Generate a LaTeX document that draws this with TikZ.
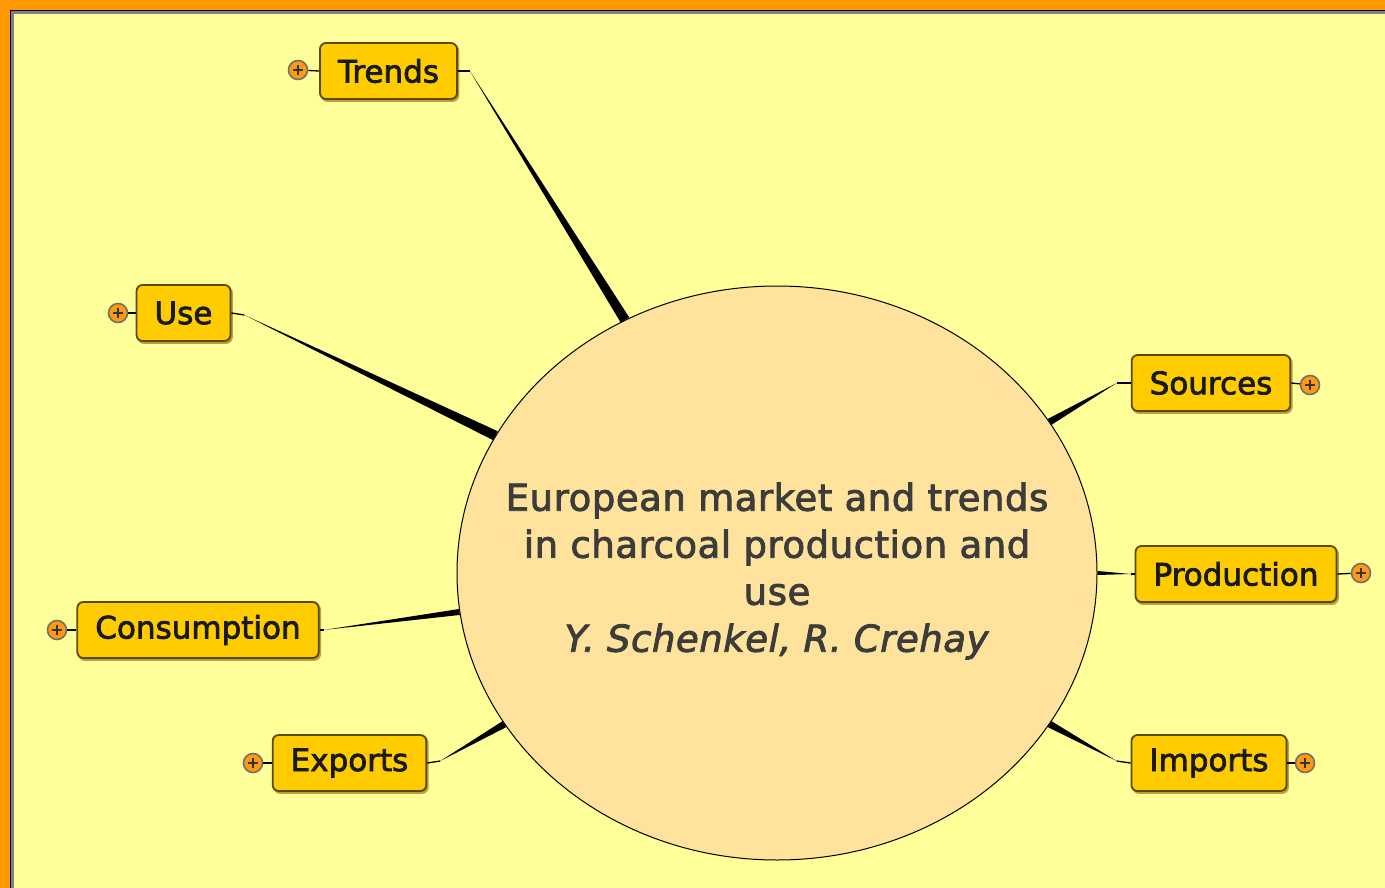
\documentclass[tikz,border=0pt]{standalone}
\usepackage{fontspec}
\setmainfont{DejaVu Sans}[RawFeature={embolden=2.4}]
\usetikzlibrary{shapes.geometric,calc}
\definecolor{frameor}{HTML}{FF9900}
\definecolor{bgyel}{HTML}{FFFF99}
\definecolor{boxfill}{HTML}{FFCC00}
\definecolor{boxline}{HTML}{5A4A00}
\definecolor{boxshadow}{HTML}{B8A040}
\definecolor{ellfill}{HTML}{FFE39C}
\definecolor{maintext}{HTML}{3C3C3C}
\definecolor{iconor}{HTML}{FF9A10}
\definecolor{icongray}{HTML}{707070}
\tikzset{
  topic/.style={draw=boxline, line width=1.8pt, fill=boxfill, rounded corners=6pt,
    minimum height=56pt, inner xsep=18pt, inner ysep=0pt, text=black!90,
    font=\fontsize{31}{37}\selectfont,
    preaction={fill=boxshadow, draw=boxshadow, transform canvas={xshift=1.5pt,yshift=-2pt}}},
  plusicon/.style={circle, draw=icongray, line width=1.6pt, fill=iconor, minimum size=19pt, inner sep=0pt,
    path picture={\draw[black!80, line width=2.2pt] ([xshift=-5pt]path picture bounding box.center) -- ([xshift=5pt]path picture bounding box.center);
      \draw[black!80, line width=2.2pt] ([yshift=-5pt]path picture bounding box.center) -- ([yshift=5pt]path picture bounding box.center);}},
  stub/.style={black, line width=1.3pt},
}
\newcommand{\taperlink}[3]{%
  \fill[black] (#1) -- ($(#2)!#3!90:(#1)$) -- ($(#2)!#3!-90:(#1)$) -- cycle;}
\begin{document}
\begin{tikzpicture}[x=1pt,y=-1pt]
\useasboundingbox (0,0) rectangle (1385,888);
% frame
\fill[frameor] (0,0) rectangle (1385,888);
\fill[black] (10,10) rectangle (1385,888);
\fill[gray] (11,11) rectangle (1385,888);
\fill[bgyel] (14,14) rectangle (1385,888);
% central ellipse
\node[ellipse, draw=black, line width=1pt, fill=ellfill, minimum width=640pt, minimum height=574pt, inner sep=0pt] (c) at (777,573) {};
\node[text=maintext, align=center, font=\fontsize{37}{47}\selectfont\addfontfeatures{LetterSpace=1.5}] (ct) at (777,571)
  {European market and trends\\in charcoal production and\\use\\\textit{Y. Schenkel, R. Crehay}};
% topics
\node[topic] (tr) at (388.5,71) {Trends};
\node[topic] (us) at (183.5,313) {Use};
\node[topic] (co) at (198,630) {Consumption};
\node[topic] (ex) at (349.5,763) {Exports};
\node[topic] (so) at (1211,383) {Sources};
\node[topic] (pr) at (1236,574) {Production};
\node[topic] (im) at (1209,763) {Imports};
% icons
\node[plusicon] (tri) at (298,70) {};
\node[plusicon] (usi) at (118,313) {};
\node[plusicon] (coi) at (57,630) {};
\node[plusicon] (exi) at (253,763) {};
\node[plusicon] (soi) at (1310,385) {};
\node[plusicon] (pri) at (1361,573) {};
\node[plusicon] (imi) at (1305,763) {};
\draw[stub] (tri) -- (tr.west);
\draw[stub] (usi) -- (us.west);
\draw[stub] (coi) -- (co.west);
\draw[stub] (exi) -- (ex.west);
\draw[stub] (soi) -- (so.east);
\draw[stub] (pri) -- (pr.east);
\draw[stub] (imi) -- (im.east);
% connector elbows
\coordinate (trk) at ([xshift=12pt]tr.east);
\coordinate (usk) at ([xshift=13pt,yshift=-2pt]us.east);
\coordinate (cok) at ([xshift=4pt]co.east);
\coordinate (exk) at ([xshift=13pt,yshift=2pt]ex.east);
\coordinate (sok) at ([xshift=-14pt]so.west);
\coordinate (prk) at ([xshift=-4pt]pr.west);
\coordinate (imk) at ([xshift=-14pt,yshift=2pt]im.west);
\draw[stub] (tr.east) -- (trk);
\draw[stub] (us.east) -- (usk);
\draw[stub] (co.east) -- (cok);
\draw[stub] (ex.east) -- (exk);
\draw[stub] (so.west) -- (sok);
\draw[stub] (pr.west) -- (prk);
\draw[stub] (im.west) -- (imk);
% tapered connectors to the ellipse
\taperlink{trk}{c.121}{5pt}
\taperlink{usk}{c.154}{5pt}
\taperlink{cok}{c.187.5}{3pt}
\taperlink{exk}{c.209.5}{3.5pt}
\taperlink{sok}{c.29}{3.5pt}
\taperlink{prk}{c.0}{2pt}
\taperlink{imk}{c.-29}{3.5pt}
\end{tikzpicture}
\end{document}
